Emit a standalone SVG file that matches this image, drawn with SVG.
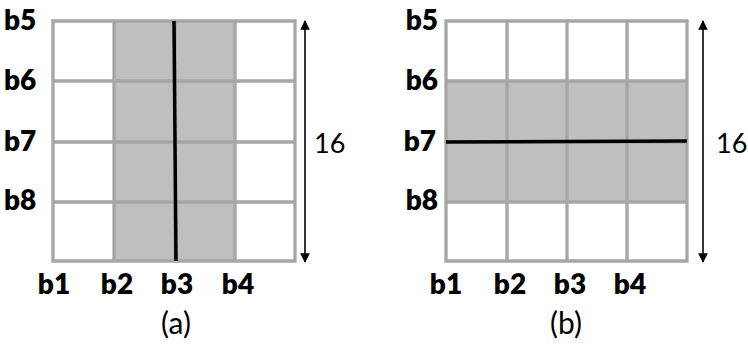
<svg xmlns="http://www.w3.org/2000/svg" width="748" height="345" viewBox="0 0 748 345">
  <defs>
    <style>
      .cell { fill: #ffffff; }
      .shade { fill: #bfbfbf; }
      .grid { fill: none; stroke: #a6a6a6; stroke-width: 3.3; }
      .cut { stroke: #000000; stroke-width: 3.5; fill: none; }
      .dim { stroke: #000000; stroke-width: 1.6; fill: none; marker-start: url(#ah); marker-end: url(#ah); }
      .lbl { font-family: Lato, "Open Sans", "Liberation Sans", sans-serif; font-weight: 800; font-size: 28px; fill: #000; }
      .num { font-family: Lato, "Open Sans", "Liberation Sans", sans-serif; font-size: 27px; fill: #000; }
      .cap { font-family: Lato, "Open Sans", "Liberation Sans", sans-serif; font-size: 30px; fill: #000; text-anchor: middle; }
    </style>
    <marker id="ah" viewBox="0 0 10 10" refX="9" refY="5" markerWidth="6" markerHeight="6" orient="auto-start-reverse" markerUnits="strokeWidth">
      <path d="M0,0 L10,5 L0,10 z" fill="#000"/>
    </marker>
  </defs>
  <rect width="748" height="345" fill="#ffffff"/>

  <g id="panel-a">
    <rect class="cell" x="53" y="21" width="242" height="240"/>
    <rect class="shade" x="114" y="21" width="121" height="240"/>
    <path class="grid" d="M53,21 H295 V261 H53 Z M114,21 V261 M175,21 V261 M235,21 V261 M53,81 H295 M53,142 H295 M53,202 H295"/>
    <line class="cut" x1="174" y1="21" x2="176" y2="261"/>
    <text class="lbl" x="4" y="30">b5</text>
    <text class="lbl" x="4" y="90">b6</text>
    <text class="lbl" x="4" y="151">b7</text>
    <text class="lbl" x="4" y="210">b8</text>
    <g text-anchor="middle">
      <text class="lbl" x="54" y="294">b1</text>
      <text class="lbl" x="117" y="294">b2</text>
      <text class="lbl" x="177" y="294">b3</text>
      <text class="lbl" x="238" y="294">b4</text>
    </g>
    <text class="cap" x="176" y="334">(a)</text>
  </g>

  <g id="panel-b">
    <rect class="cell" x="446" y="21" width="241" height="240"/>
    <rect class="shade" x="446" y="81" width="241" height="121"/>
    <path class="grid" d="M446,21 H687 V261 H446 Z M507,21 V261 M567,21 V261 M627,21 V261 M446,81 H687 M446,142 H687 M446,202 H687"/>
    <line class="cut" x1="446" y1="142" x2="687" y2="141"/>
    <g text-anchor="end">
      <text class="lbl" x="438" y="30">b5</text>
      <text class="lbl" x="438" y="90">b6</text>
      <text class="lbl" x="436" y="151">b7</text>
      <text class="lbl" x="438" y="210">b8</text>
    </g>
    <g text-anchor="middle">
      <text class="lbl" x="446" y="294">b1</text>
      <text class="lbl" x="510" y="294">b2</text>
      <text class="lbl" x="570" y="294">b3</text>
      <text class="lbl" x="630" y="294">b4</text>
    </g>
    <text class="cap" x="566" y="334">(b)</text>
  </g>

  <g id="connectors">
    <line class="dim" x1="305" y1="21" x2="305" y2="262"/>
    <text class="num" x="314" y="153">16</text>
    <line class="dim" x1="703" y1="21" x2="703" y2="262"/>
    <text class="num" x="716" y="153">16</text>
  </g>
</svg>
